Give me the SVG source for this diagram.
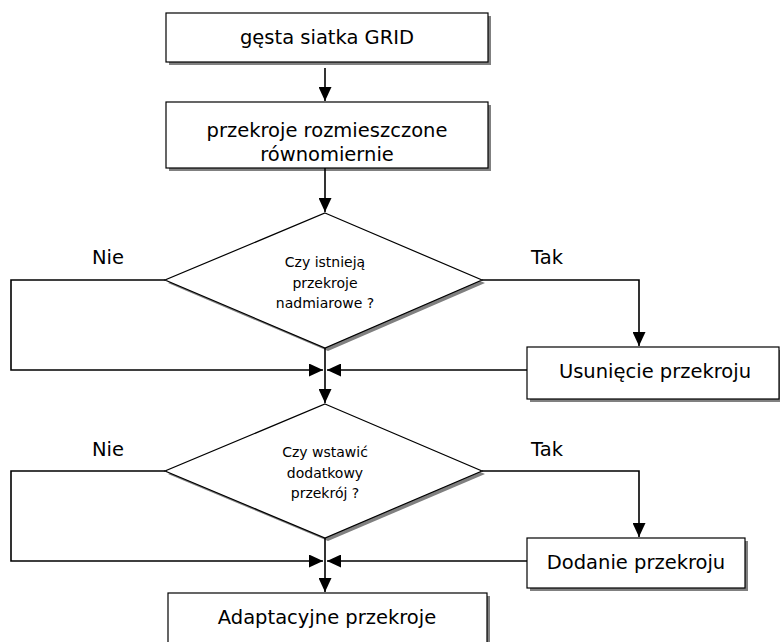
<svg xmlns="http://www.w3.org/2000/svg" width="780" height="642" viewBox="0 0 780 642">
<style>
.box{fill:#fff;stroke:#000;stroke-width:1.2}
.sh{fill:#808080}
.t{font-family:"DejaVu Sans",Verdana,sans-serif;font-size:19.5px;text-anchor:middle;fill:#000}
.s{font-family:"DejaVu Sans",Verdana,sans-serif;font-size:14px;text-anchor:middle;fill:#000}
.c{fill:none;stroke:#000;stroke-width:1.6}
</style>
<defs>
<marker id="a" viewBox="0 0 14 13" refX="14" refY="6.5" markerWidth="14" markerHeight="13" markerUnits="userSpaceOnUse" orient="auto">
<path d="M0,0 L14,6.5 L0,13 Z" fill="#000"/>
</marker>
</defs>
<rect width="780" height="642" fill="#fff"/>
<g id="n1">
<rect class="sh" x="169" y="16" width="322" height="49"/>
<rect class="box" x="166" y="13" width="322" height="49"/>
<text class="t" x="327" y="44">gęsta siatka GRID</text>
</g>
<g id="n2">
<rect class="sh" x="169" y="105" width="322" height="66"/>
<rect class="box" x="166" y="102" width="322" height="66"/>
<text class="t" x="327" y="137">przekroje rozmieszczone</text>
<text class="t" x="327" y="161">równomiernie</text>
</g>
<g id="d1">
<polygon class="sh" points="328,216 485,283 328,351 168,283"/>
<polygon class="box" points="325,213 482,280 325,348 165,280"/>
<text class="s" x="325" y="267">Czy istnieją</text>
<text class="s" x="325" y="288">przekroje</text>
<text class="s" x="325" y="308">nadmiarowe ?</text>
</g>
<g id="n3">
<rect class="sh" x="530" y="350" width="252" height="52"/>
<rect class="box" x="527" y="347" width="252" height="52"/>
<text class="t" x="655" y="378">Usunięcie przekroju</text>
</g>
<g id="d2">
<polygon class="sh" points="328,407 485,474 328,541 168,474"/>
<polygon class="box" points="325,404 482,471 325,538 165,471"/>
<text class="s" x="325" y="457">Czy wstawić</text>
<text class="s" x="325" y="478">dodatkowy</text>
<text class="s" x="325" y="498">przekrój ?</text>
</g>
<g id="n4">
<rect class="sh" x="530" y="541" width="218" height="50"/>
<rect class="box" x="527" y="538" width="218" height="50"/>
<text class="t" x="636" y="569">Dodanie przekroju</text>
</g>
<g id="n5">
<rect class="sh" x="171" y="596" width="319" height="60"/>
<rect class="box" x="168" y="593" width="319" height="60"/>
<text class="t" x="327" y="624">Adaptacyjne przekroje</text>
</g>
<g id="labels">
<text class="t" x="108" y="264">Nie</text>
<text class="t" x="547" y="264">Tak</text>
<text class="t" x="108" y="456">Nie</text>
<text class="t" x="547" y="456">Tak</text>
</g>
<g id="connectors">
<path class="c" d="M325,68 V101" marker-end="url(#a)"/>
<path class="c" d="M325,168 V212" marker-end="url(#a)"/>
<path class="c" d="M165,280 H11 V370 H323" marker-end="url(#a)"/>
<path class="c" d="M482,280 H639 V346" marker-end="url(#a)"/>
<path class="c" d="M527,370 H327" marker-end="url(#a)"/>
<path class="c" d="M325,348 V403" marker-end="url(#a)"/>
<path class="c" d="M165,471 H11 V561 H323" marker-end="url(#a)"/>
<path class="c" d="M482,471 H639 V537" marker-end="url(#a)"/>
<path class="c" d="M527,561 H327" marker-end="url(#a)"/>
<path class="c" d="M325,538 V592" marker-end="url(#a)"/>
</g>
</svg>
